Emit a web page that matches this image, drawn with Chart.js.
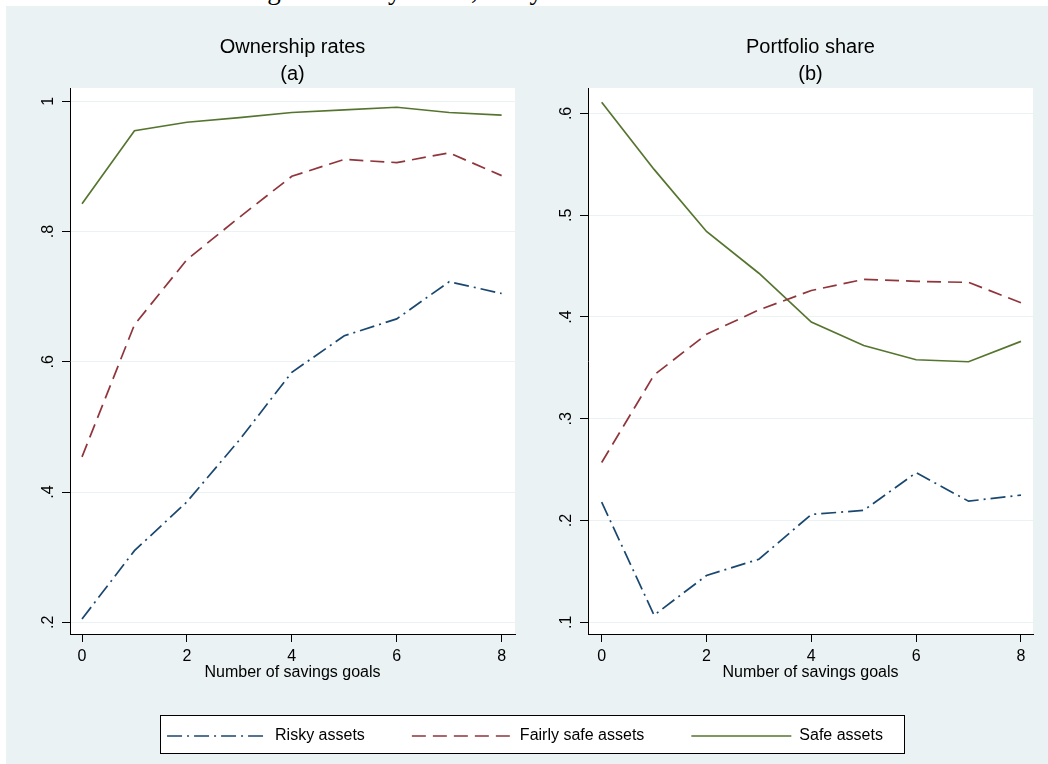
<!DOCTYPE html>
<html>
<head>
<meta charset="utf-8">
<script src="https://cdn.jsdelivr.net/npm/chart.js@4.4.1/dist/chart.umd.min.js"></script>
<style>
    html, body { margin: 0; padding: 0; background: #fff; }
    body { width: 1048px; height: 764px; position: relative; overflow: hidden; }
    #region { position: absolute; left: 6px; top: 6px; right: 0; bottom: 0; background: #eaf2f3; }
    #caption { position: absolute; left: 0; top: 0; width: 1048px; height: 6px; overflow: hidden; }
    #caption span { position: absolute; right: 208px; top: -23px; white-space: nowrap; color: #000;
        font: 27px/27px 'Liberation Serif', 'Times New Roman', serif; }
    canvas { position: absolute; }
    #chartA { left: 0; top: 0; }
    #chartB { left: 524px; top: 0; }
    #legendBox { position: absolute; left: 160px; top: 715px; width: 745px; height: 39px; box-sizing: border-box;
        border: 1px solid #000; background: #fff; overflow: hidden; }
    #legendCanvas { left: -86px; top: -35px; }
</style>
</head>
<body>
<div id="region"></div>
<div id="caption"><span>assets are classified into three categories: risky assets, fairly safe assets and Safe assets.</span></div>
<canvas id="chartA" width="524" height="700"></canvas>
<canvas id="chartB" width="524" height="700"></canvas>
<div id="legendBox"><canvas id="legendCanvas" width="900" height="260"></canvas></div>

<script>
// data
const goals = [0, 1, 2, 3, 4, 5, 6, 7, 8];
const goalTicks = [0, 2, 4, 6, 8];
const seriesNames = ['Risky assets', 'Fairly safe assets', 'Safe assets'];

const ownRisky  = [0.205, 0.310, 0.385, 0.480, 0.584, 0.640, 0.666, 0.723, 0.705];
const ownFairly = [0.454, 0.657, 0.757, 0.822, 0.885, 0.911, 0.906, 0.921, 0.886];
const ownSafe   = [0.843, 0.955, 0.968, 0.975, 0.983, 0.987, 0.991, 0.983, 0.979];

const shareRisky  = [0.218, 0.107, 0.146, 0.162, 0.206, 0.210, 0.247, 0.219, 0.225];
const shareFairly = [0.257, 0.343, 0.383, 0.407, 0.426, 0.437, 0.435, 0.434, 0.414];
const shareSafe   = [0.611, 0.545, 0.484, 0.443, 0.395, 0.372, 0.358, 0.356, 0.376];

const ownTicks = [0.2, 0.4, 0.6, 0.8, 1];
const ownTickLabels = ['.2', '.4', '.6', '.8', '1'];
const shareTicks = [0.1, 0.2, 0.3, 0.4, 0.5, 0.6];
const shareTickLabels = ['.1', '.2', '.3', '.4', '.5', '.6'];

const lineColors = ['#1a476f', '#90353b', '#55752f'];
const lineDashes = [[15, 5, 2, 5], [14, 7], []];
const LINE_W = 1.7;
const BG = '#eaf2f3';

Chart.defaults.font.family = "'Liberation Sans', Arial, Helvetica, sans-serif";
Chart.defaults.font.size = 16;
Chart.defaults.color = '#000';

// white plot region, Stata style
const plotRegion = {
    id: 'plotRegion',
    beforeDraw(chart) {
        const a = chart.chartArea;
        if (!a) return;
        const ctx = chart.ctx;
        ctx.save();
        ctx.fillStyle = '#fff';
        ctx.fillRect(a.left, a.top, a.right - a.left, a.bottom - a.top);
        ctx.restore();
    }
};

function buildDatasets(seriesList) {
    return seriesList.map((values, k) => ({
        label: seriesNames[k],
        data: goals.map((g, i) => ({ x: g, y: values[i] })),
        borderColor: lineColors[k],
        borderDash: lineDashes[k],
        borderWidth: LINE_W,
        pointRadius: 0,
        tension: 0,
        fill: false
    }));
}

function makePanel(id, titleLines, seriesList, yTicks, yLabels, yMin, yMax, xMin, xMax, axisWidth, padRight) {
    return new Chart(document.getElementById(id), {
        type: 'line',
        data: { datasets: buildDatasets(seriesList) },
        plugins: [plotRegion],
        options: {
            responsive: false,
            animation: false,
            layout: { padding: { top: 34, right: padRight, left: 0, bottom: 0 } },
            plugins: {
                legend: { display: false },
                tooltip: { enabled: false },
                title: {
                    display: true,
                    text: titleLines,
                    fullSize: false,
                    color: '#000',
                    font: { size: 20, weight: 'normal', lineHeight: 1.35 },
                    padding: { top: 0, bottom: 0 }
                }
            },
            scales: {
                x: {
                    type: 'linear',
                    min: xMin,
                    max: xMax,
                    afterBuildTicks: s => { s.ticks = goalTicks.map(v => ({ value: v })); },
                    afterFit: s => { s.height = 66; },
                    grid: { drawOnChartArea: false, drawTicks: true, tickLength: 8, tickColor: '#000', tickWidth: 1 },
                    border: { display: true, color: '#000', width: 1 },
                    ticks: { padding: 5, autoSkip: false, maxRotation: 0, font: { size: 16 } },
                    title: {
                        display: true,
                        text: 'Number of savings goals',
                        font: { size: 16 },
                        padding: { top: 0, bottom: 17.5 }
                    }
                },
                y: {
                    type: 'linear',
                    min: yMin,
                    max: yMax,
                    afterBuildTicks: s => { s.ticks = yTicks.map(v => ({ value: v })); },
                    afterFit: s => { s.width = axisWidth; },
                    grid: { color: BG, lineWidth: 1, drawTicks: true, tickLength: 8, tickColor: '#000', tickWidth: 1 },
                    border: { display: true, color: '#000', width: 1 },
                    ticks: {
                        autoSkip: false,
                        minRotation: 90,
                        maxRotation: 90,
                        crossAlign: 'center',
                        padding: 7,
                        font: { size: 16 },
                        callback: (v, i) => yLabels[i]
                    }
                }
            }
        }
    });
}

makePanel('chartA', ['Ownership rates', '(a)'], [ownRisky, ownFairly, ownSafe],
    ownTicks, ownTickLabels, 0.182, 1.0206, -0.229, 8.255, 70, 9);

makePanel('chartB', ['Portfolio share', '(b)'], [shareRisky, shareFairly, shareSafe],
    shareTicks, shareTickLabels, 0.0885, 0.625, -0.261, 8.23, 64, 15);

// shared legend below both panels
new Chart(document.getElementById('legendCanvas'), {
    type: 'line',
    data: {
        datasets: seriesNames.map((name, k) => ({
            label: name,
            data: [],
            borderColor: lineColors[k],
            backgroundColor: 'rgba(0,0,0,0)',
            borderDash: lineDashes[k],
            borderWidth: LINE_W
        }))
    },
    options: {
        responsive: false,
        animation: false,
        scales: { x: { display: false }, y: { display: false } },
        plugins: {
            tooltip: { enabled: false },
            legend: {
                display: true,
                position: 'top',
                labels: {
                    usePointStyle: true,
                    pointStyle: 'line',
                    pointStyleWidth: 100,
                    padding: 47,
                    color: '#000',
                    font: { size: 16 },
                    generateLabels: chart => {
                        const items = Chart.defaults.plugins.legend.labels.generateLabels(chart);
                        items.forEach((item, i) => {
                            item.lineDash = lineDashes[i];
                            item.lineWidth = LINE_W;
                            item.strokeStyle = lineColors[i];
                        });
                        return items;
                    }
                }
            }
        }
    }
});
</script>
</body>
</html>
